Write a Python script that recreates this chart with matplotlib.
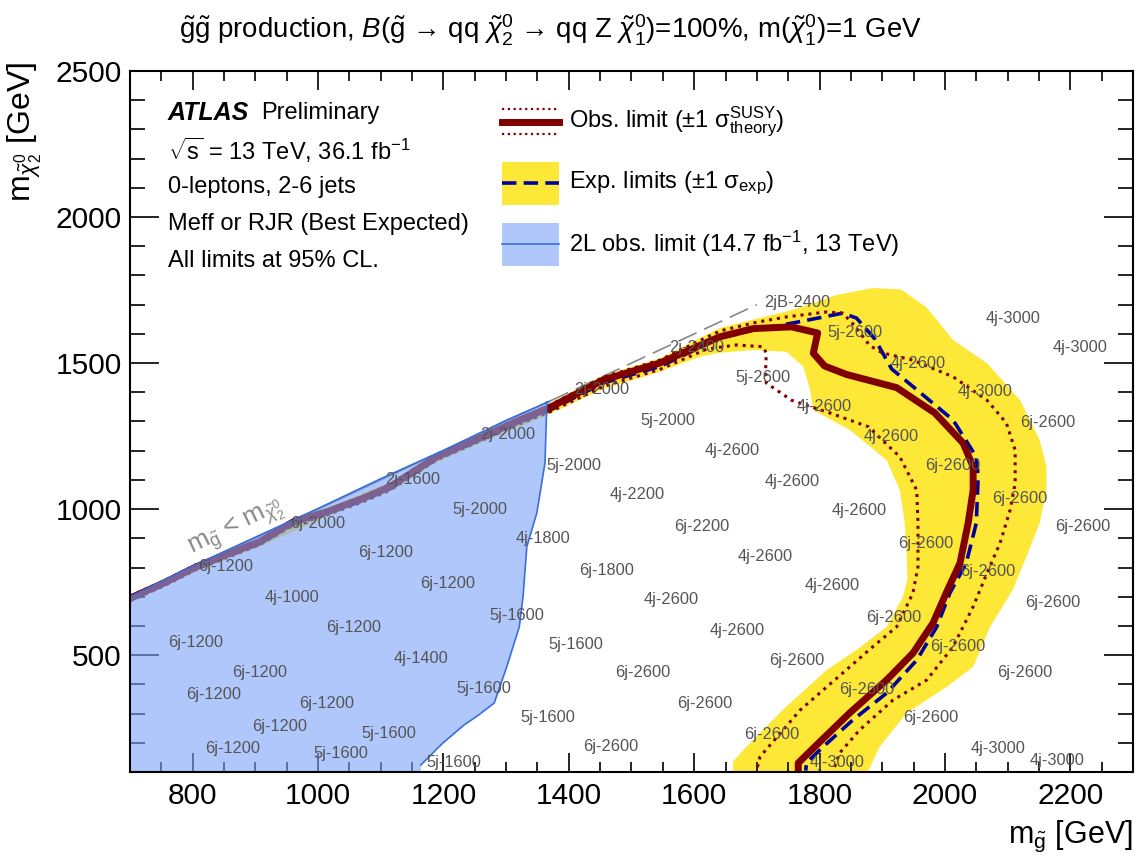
import matplotlib
matplotlib.use("Agg")
import matplotlib.pyplot as plt
from matplotlib.ticker import MultipleLocator
from matplotlib.patches import Rectangle

plt.rcParams['font.family'] = ['Liberation Sans', 'DejaVu Sans']
plt.rcParams['mathtext.fontset'] = 'custom'
plt.rcParams['mathtext.rm'] = 'Liberation Sans'
plt.rcParams['mathtext.it'] = 'Liberation Sans:italic'
plt.rcParams['mathtext.bf'] = 'Liberation Sans:bold'
plt.rcParams['mathtext.sf'] = 'Liberation Sans'

# observed limit (gluino mass, chi2 mass)
obs_x = [700, 753, 806, 859, 907, 960, 1014, 1072, 1115, 1189, 1269, 1322, 1370, 1455, 1545, 1641, 1694,
         1755, 1797, 1790, 1808, 1843, 1923, 1984, 2029, 2045, 2045, 2037, 2024, 2002, 1981, 1949, 1907,
         1848, 1795, 1766, 1766]
obs_y = [695, 746, 803, 849, 888, 956, 991, 1037, 1077, 1179, 1254, 1305, 1348, 1442, 1500, 1590, 1618,
         1624, 1603, 1534, 1490, 1461, 1416, 1329, 1226, 1145, 1065, 952, 815, 713, 610, 507, 415,
         302, 192, 131, 100]

# observed +1 sigma theory
obs_up_x = [700, 753, 806, 859, 907, 960, 1014, 1072, 1115, 1189, 1269, 1322, 1370, 1455, 1545, 1641, 1700,
            1747, 1811, 1837, 1855, 1880, 1900, 1949, 2013, 2067, 2098, 2112, 2112, 2104, 2088, 2067, 2045,
            2013, 1971, 1917, 1864, 1832, 1821]
obs_up_y = [702, 753, 810, 855, 895, 962, 997, 1045, 1085, 1186, 1262, 1312, 1356, 1452, 1510, 1610, 1640,
            1658, 1675, 1671, 1630, 1560, 1535, 1510, 1453, 1373, 1295, 1202, 1089, 997, 884, 781, 666,
            529, 415, 346, 244, 165, 100]

# observed -1 sigma theory
obs_dn_x = [700, 753, 806, 859, 907, 960, 1014, 1072, 1115, 1189, 1269, 1322, 1370, 1455, 1545, 1620, 1667,
            1710, 1715, 1714, 1715, 1755, 1818, 1878, 1928, 1955, 1957, 1957, 1957, 1949, 1923, 1885, 1837,
            1769, 1705, 1699]
obs_dn_y = [686, 736, 793, 838, 878, 944, 980, 1025, 1065, 1168, 1243, 1292, 1333, 1420, 1478, 1548, 1562,
            1556, 1534, 1476, 1432, 1373, 1328, 1282, 1179, 1065, 952, 837, 803, 713, 597, 529, 439,
            312, 152, 100]

# expected limit
exp_x = [700, 753, 806, 859, 907, 960, 1014, 1072, 1115, 1189, 1269, 1322, 1370, 1455, 1545, 1641, 1694,
         1757, 1837, 1859, 1888, 1915, 1946, 2013, 2050, 2053, 2050, 2034, 2008, 1987, 1955, 1907, 1853,
         1806, 1779, 1778]
exp_y = [688, 740, 797, 842, 882, 948, 984, 1030, 1070, 1172, 1247, 1298, 1339, 1432, 1488, 1586, 1613,
         1637, 1671, 1654, 1583, 1480, 1425, 1305, 1179, 1111, 952, 815, 713, 597, 483, 370, 278,
         187, 131, 105]

# expected +-1 sigma band, outer edge then inner edge
band_x = [700, 806, 907, 1014, 1115, 1189, 1269, 1370, 1455, 1545, 1641, 1700, 1757, 1827, 1885, 1930,
          1971, 2013, 2067, 2120, 2151, 2162, 2162, 2151, 2130, 2108, 2072, 2045, 2003, 1939, 1896, 1877,
          1662, 1662, 1678, 1741, 1811, 1859, 1907, 1933, 1940, 1939, 1936, 1928, 1907, 1848, 1790, 1785,
          1774, 1747, 1694, 1641, 1609, 1545, 1455, 1370, 1269, 1189, 1115, 1014, 907, 806, 700]
band_y = [706, 814, 900, 1003, 1092, 1192, 1267, 1362, 1458, 1516, 1620, 1652, 1682, 1733, 1757, 1752,
          1690, 1579, 1500, 1373, 1237, 1145, 1065, 952, 837, 723, 597, 460, 392, 302, 187, 100,
          100, 135, 175, 312, 449, 518, 597, 700, 760, 837, 952, 1065, 1168, 1271, 1339, 1408,
          1488, 1539, 1545, 1535, 1522, 1470, 1412, 1326, 1236, 1160, 1060, 975, 872, 788, 680]

# 2L observed excluded region
twol_x = [700, 700, 800, 900, 1000, 1100, 1200, 1300, 1368, 1365, 1362, 1349, 1333, 1327, 1321, 1301,
          1281, 1256, 1233, 1199, 1164, 1164]
twol_y = [100, 700, 805, 904, 1002, 1104, 1201, 1304, 1368, 1367, 1158, 987, 871, 700, 597, 460,
          336, 295, 261, 199, 124, 100]

# kinematic boundary m(gluino) = m(chi2)
kin_x = [700, 1370]
kin_y = [700, 1370]
kin_dash_x = [1370, 1700]
kin_dash_y = [1370, 1700]

# best signal region labels
sr_x = [1303, 1151, 1000, 852, 1258, 1359, 1107, 1207, 958, 1317, 1056, 805, 1164, 907, 1265, 834,
        1014, 938, 1113, 863, 1037, 1217,
        1764, 1604, 1453, 1856, 1710, 1807, 1914, 1558, 1660, 1408, 1957, 2108, 2215, 2064, 2164, 2013,
        1757, 2119, 1863, 2220, 1612, 1509, 1970, 1713, 2068, 1820, 2172, 1919, 1668, 2021, 1764, 2127,
        1876, 1617, 1978, 1724, 2084, 1828, 2179, 1518, 1467, 1411, 1367, 1461, 1563]
sr_y = [1254, 1100, 952, 802, 1000, 898, 850, 747, 699, 637, 596, 542, 490, 442, 387, 364,
        333, 257, 233, 182, 165, 131,
        1706, 1555, 1408, 1603, 1452, 1350, 1247, 1305, 1202, 1151, 1500, 1651, 1552, 1401, 1295, 1148,
        1093, 1038, 997, 939, 942, 1051, 884, 839, 785, 737, 682, 630, 583, 531, 483, 439,
        381, 336, 285, 230, 182, 134, 141, 439, 186, 538, 285, 791, 689]
sr_txt = ['2j-2000', '2j-1600', '6j-2000', '6j-1200', '5j-2000', '4j-1800', '6j-1200', '6j-1200',
          '4j-1000', '5j-1600', '6j-1200', '6j-1200', '4j-1400', '6j-1200', '5j-1600', '6j-1200',
          '6j-1200', '6j-1200', '5j-1600', '6j-1200', '5j-1600', '5j-1600',
          '2jB-2400', '2j-2400', '2j-2000', '5j-2600', '5j-2600', '4j-2600', '4j-2600', '5j-2000',
          '4j-2600', '5j-2000', '4j-2600', '4j-3000', '4j-3000', '4j-3000', '6j-2600', '6j-2600',
          '4j-2600', '6j-2600', '4j-2600', '6j-2600', '6j-2200', '4j-2200', '6j-2600', '4j-2600',
          '6j-2600', '4j-2600', '6j-2600', '6j-2600', '4j-2600', '6j-2600', '6j-2600', '6j-2600',
          '6j-2600', '6j-2600', '6j-2600', '6j-2600', '4j-3000', '4j-3000', '4j-3000', '6j-2600',
          '6j-2600', '5j-1600', '5j-1600', '6j-1800', '4j-2600']

yellow = '#fde838'
darkred = '#800000'
navy = '#00009a'
blue_fill = '#7ba3f7'
blue_line = '#3a6fd8'

fig = plt.figure(figsize=(11.38, 8.58), dpi=100)
ax = fig.add_axes([130 / 1138, 1 - 772 / 858, 1003 / 1138, 701 / 858])

ax.fill(band_x, band_y, color=yellow, lw=0, zorder=1)
ax.plot(kin_x, kin_y, color='#888888', lw=1.3, zorder=2)
ax.plot(kin_dash_x, kin_dash_y, color='#888888', lw=1.2, dashes=(12, 5), zorder=2)
ax.plot(exp_x, exp_y, color=navy, lw=2.6, dashes=(4, 2), zorder=3)
ax.plot(obs_up_x, obs_up_y, color=darkred, lw=2.2, linestyle=(0, (1, 1.6)), zorder=3)
ax.plot(obs_dn_x, obs_dn_y, color=darkred, lw=2.2, linestyle=(0, (1, 1.6)), zorder=3)
ax.plot(obs_x, obs_y, color=darkred, lw=5, zorder=4, solid_joinstyle='round')
ax.fill(twol_x, twol_y, color=blue_fill, alpha=0.6, lw=0, zorder=5)
ax.plot(twol_x[1:-1], twol_y[1:-1], color=blue_line, lw=1.2, zorder=5)

for x, y, t in zip(sr_x, sr_y, sr_txt):
    ax.text(x, y, t, ha='center', va='center', fontsize=11.8, color='#555555', zorder=6)

ax.text(870, 935, r'm$_{\tilde{\mathrm{g}}}$ < m$_{\tilde{\chi}^0_2}$', rotation=26, ha='center', va='center',
        fontsize=18.5, color='#888888', zorder=6)

ax.set_xlim(700, 2300)
ax.set_ylim(100, 2500)
ax.xaxis.set_major_locator(MultipleLocator(200))
ax.xaxis.set_minor_locator(MultipleLocator(50))
ax.yaxis.set_major_locator(MultipleLocator(500))
ax.yaxis.set_minor_locator(MultipleLocator(100))
ax.tick_params(which='both', direction='in', top=True, right=True, width=1.2, labelsize=21.5)
ax.tick_params(axis='x', which='major', length=14, pad=7)
ax.tick_params(axis='x', which='minor', length=7)
ax.tick_params(axis='y', which='major', length=21, pad=6)
ax.tick_params(axis='y', which='minor', length=11)
for s in ax.spines.values():
    s.set_linewidth(1.5)
    s.set_zorder(10)

fig.text(1133 / 1138, 0.018, r'm$_{\tilde{\mathrm{g}}}$ [GeV]', ha='right', va='baseline', fontsize=22)
fig.text(0.022, 1 - 62 / 858, r'm$_{\tilde{\chi}^0_2}$ [GeV]', ha='center', va='top', rotation=90, fontsize=23)
fig.text(0.484, 0.965, r'$\mathrm{\tilde{g}\tilde{g}}$ production, $B$($\mathrm{\tilde{g}}$ → qq '
         r'$\tilde{\chi}^0_2$ → qq Z $\tilde{\chi}^0_1$)=100%, m($\tilde{\chi}^0_1$)=1 GeV',
         ha='center', va='center', fontsize=19.9)

# ATLAS block
tx = (168 - 130) / 1003
fs = 17
ax.text(tx, 0.940, 'ATLAS', transform=ax.transAxes, fontsize=18, fontweight='bold', style='italic',
        va='center', zorder=7)
ax.text((261 - 130) / 1003, 0.940, 'Preliminary', transform=ax.transAxes, fontsize=fs, va='center', zorder=7)
ax.text(tx, 0.887, r'$\sqrt{\mathrm{s}}$ = 13 TeV, 36.1 fb$^{-1}$', transform=ax.transAxes, fontsize=fs,
        va='center', zorder=7)
ax.text(tx, 0.835, '0-leptons, 2-6 jets', transform=ax.transAxes, fontsize=fs, va='center', zorder=7)
ax.text(tx, 0.782, 'Meff or RJR (Best Expected)', transform=ax.transAxes, fontsize=fs, va='center', zorder=7)
ax.text(tx, 0.729, 'All limits at 95% CL.', transform=ax.transAxes, fontsize=fs, va='center', zorder=7)

# legend
lx0, lx1 = 0.371, 0.428
hh = 0.0307
ax.plot([lx0, lx1], [0.946, 0.946], transform=ax.transAxes, color=darkred, lw=1.6, linestyle=(0, (1, 1.6)))
ax.plot([lx0, lx1], [0.910, 0.910], transform=ax.transAxes, color=darkred, lw=1.6, linestyle=(0, (1, 1.6)))
ax.plot([lx0, lx1], [0.927, 0.927], transform=ax.transAxes, color=darkred, lw=5)
ax.add_patch(Rectangle((lx0, 0.840 - hh), lx1 - lx0, 2 * hh, transform=ax.transAxes, color=yellow, lw=0))
ax.plot([lx0, lx1], [0.840, 0.840], transform=ax.transAxes, color=navy, lw=2.6, dashes=(4, 2))
ax.add_patch(Rectangle((lx0, 0.753 - hh), lx1 - lx0, 2 * hh, transform=ax.transAxes, color=blue_fill,
                       alpha=0.6, lw=0))
ax.plot([lx0, lx1], [0.753, 0.753], transform=ax.transAxes, color=blue_line, lw=1.2)
ltx = 0.4377
ax.text(ltx, 0.927, r'Obs. limit ($\pm$1 $\mathrm{\sigma}^{\mathrm{SUSY}}_{\mathrm{theory}}$)', transform=ax.transAxes,
        fontsize=fs, va='center')
ax.text(ltx, 0.840, r'Exp. limits ($\pm$1 $\mathrm{\sigma}_{\mathrm{exp}}$)', transform=ax.transAxes,
        fontsize=fs, va='center')
ax.text(ltx, 0.753, r'2L obs. limit (14.7 fb$^{-1}$, 13 TeV)', transform=ax.transAxes,
        fontsize=fs, va='center')

fig.savefig('out.png', dpi=100)
